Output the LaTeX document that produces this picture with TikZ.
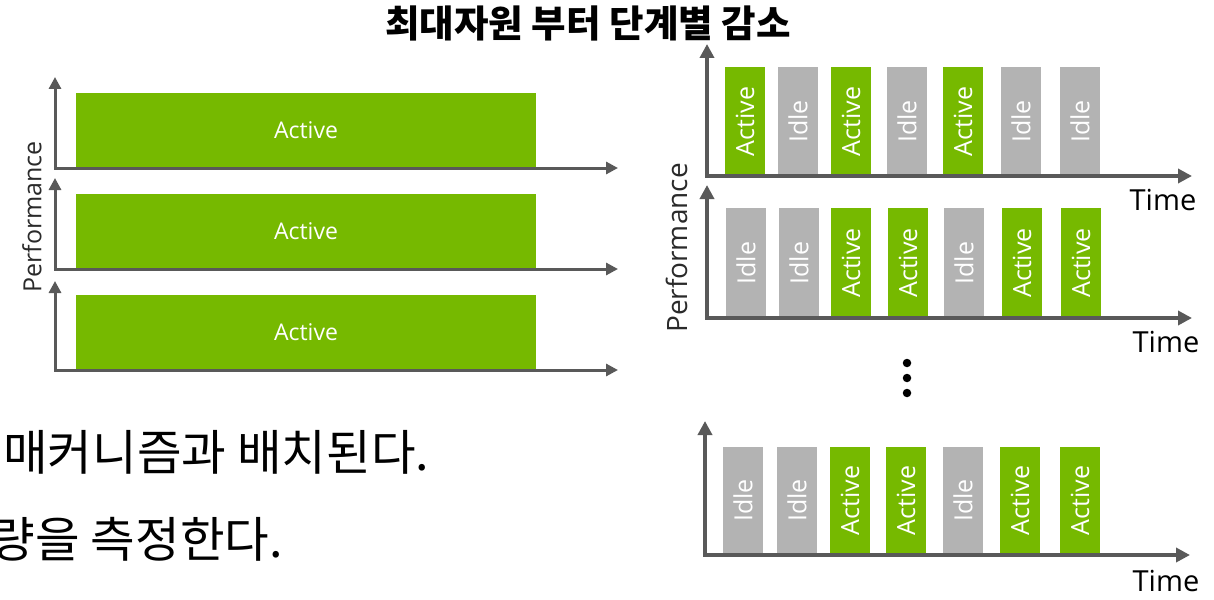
\documentclass[tikz,border=0pt]{standalone}
\usepackage{fontspec}
\setmainfont{Open Sans}
\newfontfamily\krfont{Noto Sans CJK KR}
\usetikzlibrary{arrows.meta}
\definecolor{nvgreen}{HTML}{76B900}
\definecolor{idlegray}{HTML}{B3B3B3}
\definecolor{axisgray}{HTML}{595959}
\definecolor{labelgray}{HTML}{2A2A2A}
\tikzset{
  raxis/.style={line width=3.5pt, draw=axisgray, line join=miter,
    {Triangle[length=14pt,width=14pt]}-{Triangle[length=14pt,width=14pt]}},
  laxis/.style={line width=3pt, draw=axisgray, line join=miter,
    {Triangle[length=12pt,width=12pt]}-{Triangle[length=12pt,width=12pt]}},
  bigbar/.style={rectangle, fill=nvgreen, minimum width=460pt, minimum height=75pt,
    inner sep=0pt, text=white, font=\fontsize{23}{23}\selectfont},
  barbase/.style={rectangle, rotate=90, minimum height=40.5pt, inner sep=0pt,
    text=white, font=\fontsize{25}{25}\selectfont},
  actbar/.style={barbase, fill=nvgreen},
  idlebar/.style={barbase, fill=idlegray},
  perflabel/.style={rotate=90, text=labelgray, inner sep=0pt},
  timelabel/.style={text=black, inner sep=0pt, font=\fontsize{29}{29}\selectfont},
  dotnode/.style={circle, fill=black, inner sep=0pt, minimum size=8.5pt},
  bodytext/.style={inner sep=0pt, font=\krfont\fontsize{48.5}{48.5}\selectfont},
}
\begin{document}
\begin{tikzpicture}[x=1pt,y=-1pt]
\useasboundingbox (0,0) rectangle (1214,599);
\clip (0,0) rectangle (1214,599);

% ---------- title ----------
\node[inner sep=0pt, font=\krfont\bfseries\fontsize{37.5}{37.5}\selectfont] (title) at (588,23) {최대자원 부터 단계별 감소};

% ---------- left panel ----------
\node[bigbar] (L1) at (306,130.5) {Active};
\node[bigbar] (L2) at (306,231.5) {Active};
\node[bigbar] (L3) at (306,332.5) {Active};
\foreach \k/\yo/\yt in {1/168/77, 2/269/178, 3/370/281}{
  \coordinate (lo\k) at (55,\yo);
  \coordinate (ly\k) at (55,\yt);
  \coordinate (lx\k) at (618,\yo);
  \draw[laxis] (ly\k) -- (lo\k) -- (lx\k);
}
\node[perflabel, font=\fontsize{25}{25}\selectfont] (lperf) at (32,217) {Performance};

% ---------- right panel: top chart ----------
\foreach \x/\s/\l [count=\i] in {745/actbar/Active, 798/idlebar/Idle, 851/actbar/Active,
    907/idlebar/Idle, 963/actbar/Active, 1021/idlebar/Idle, 1080/idlebar/Idle}{
  \node[\s, minimum width=109pt] (ta\i) at (\x,121.5) {\l};
}
\coordinate (to) at (707,176);
\coordinate (ty) at (707,44);
\coordinate (tx) at (1192,176);
\draw[raxis] (ty) -- (to) -- (tx);
\node[timelabel] (time1) at (1163,200) {Time};

% ---------- right panel: middle chart ----------
\foreach \x/\s/\l [count=\i] in {746/idlebar/Idle, 799/idlebar/Idle, 851/actbar/Active,
    908/actbar/Active, 964/idlebar/Idle, 1022/actbar/Active, 1081/actbar/Active}{
  \node[\s, minimum width=110pt] (ma\i) at (\x,263) {\l};
}
\coordinate (mo) at (707,318);
\coordinate (my) at (707,185);
\coordinate (mx) at (1192,318);
\draw[raxis] (my) -- (mo) -- (mx);
\node[timelabel] (time2) at (1166,342) {Time};

\node[perflabel, font=\fontsize{28}{28}\selectfont] (rperf) at (677,248) {Performance};

% ---------- dots ----------
\node[dotnode] (d1) at (907,363) {};
\node[dotnode] (d2) at (907,378) {};
\node[dotnode] (d3) at (907,393) {};

% ---------- right panel: bottom chart ----------
\foreach \x/\s/\l [count=\i] in {743/idlebar/Idle, 797/idlebar/Idle, 850/actbar/Active,
    906/actbar/Active, 963/idlebar/Idle, 1020/actbar/Active, 1080/actbar/Active}{
  \node[\s, minimum width=107pt] (ba\i) at (\x,500.5) {\l};
}
\coordinate (bo) at (705,555);
\coordinate (by) at (705,421);
\coordinate (bx) at (1190,555);
\draw[raxis] (by) -- (bo) -- (bx);
\node[timelabel] (time3) at (1166,581) {Time};

% ---------- body text ----------
\node[bodytext, anchor=west] (body1) at (3,452) {매커니즘과 배치된다.};
\node[bodytext, anchor=east] (body2) at (283,539) {량을 측정한다.};
\end{tikzpicture}
\end{document}
